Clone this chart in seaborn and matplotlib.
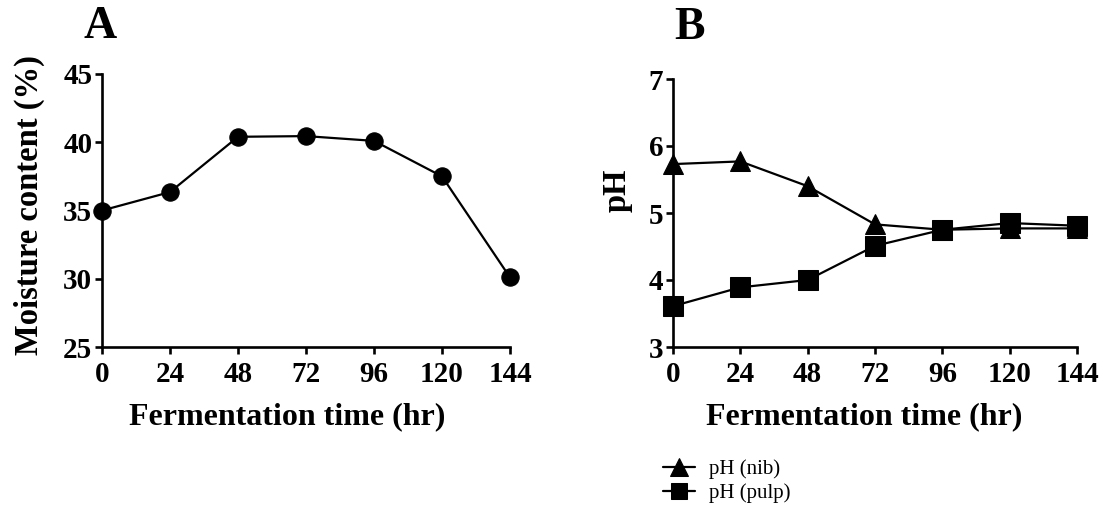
import matplotlib
matplotlib.use("Agg")
import matplotlib.pyplot as plt
import seaborn as sns
import pandas as pd

# Fermentation time points (hours)
time_hr = [0, 24, 48, 72, 96, 120, 144]

# Panel A: moisture content (%)
moisture = [35.0, 36.35, 40.4, 40.45, 40.1, 37.5, 30.1]

# Panel B: pH of nib and pulp
ph_nib = [5.73, 5.77, 5.40, 4.83, 4.75, 4.77, 4.77]
ph_pulp = [3.61, 3.89, 4.00, 4.51, 4.75, 4.85, 4.81]

x_ticks = [0, 24, 48, 72, 96, 120, 144]
a_yticks = [25, 30, 35, 40, 45]
b_yticks = [3, 4, 5, 6, 7]

sns.set_style("ticks")
plt.rcParams["font.family"] = ["Liberation Serif", "DejaVu Serif"]
plt.rcParams["font.weight"] = "bold"
plt.rcParams["text.color"] = "black"
plt.rcParams["axes.labelcolor"] = "black"
plt.rcParams["xtick.color"] = "black"
plt.rcParams["ytick.color"] = "black"

W, H = 1106, 527
fig = plt.figure(figsize=(W / 100, H / 100), dpi=100)


def px_axes(left, right, top, bottom):
    return fig.add_axes([left / W, 1 - bottom / H, (right - left) / W, (bottom - top) / H])


axA = px_axes(102, 510, 74, 347)
axB = px_axes(673, 1077, 79, 347)

df_a = pd.DataFrame({"time": time_hr, "moisture": moisture})
sns.lineplot(data=df_a, x="time", y="moisture", ax=axA, color="black",
             marker="o", markersize=12.5, linewidth=1.6, markeredgecolor="black",
             clip_on=False, zorder=3)

df_nib = pd.DataFrame({"time": time_hr, "ph": ph_nib})
df_pulp = pd.DataFrame({"time": time_hr, "ph": ph_pulp})
sns.lineplot(data=df_nib, x="time", y="ph", ax=axB, color="black",
             marker="^", markersize=15, linewidth=1.6, markeredgecolor="black",
             clip_on=False, zorder=3, label="pH (nib)")
sns.lineplot(data=df_pulp, x="time", y="ph", ax=axB, color="black",
             marker="s", markersize=14, linewidth=1.6, markeredgecolor="black",
             clip_on=False, zorder=3, label="pH (pulp)")

for ax, yt, ylab in ((axA, a_yticks, "Moisture content (%)"), (axB, b_yticks, "pH")):
    ax.set_xlim(0, 144)
    ax.set_ylim(yt[0], yt[-1])
    ax.set_xticks(x_ticks)
    ax.set_yticks(yt)
    ax.set_xticklabels([str(t) for t in x_ticks])
    ax.set_yticklabels([str(t) for t in yt])
    sns.despine(ax=ax)
    for s in ("left", "bottom"):
        ax.spines[s].set_linewidth(1.9)
        ax.spines[s].set_color("black")
    ax.tick_params(axis="both", direction="out", length=5, width=1.9,
                   labelsize=21, colors="black")
    ax.tick_params(axis="x", pad=5)
    ax.tick_params(axis="y", pad=2)
    for lab in ax.get_xticklabels() + ax.get_yticklabels():
        lab.set_fontweight("bold")
        lab.set_color("black")
    ax.set_xlabel("Fermentation time (hr)", fontsize=23, fontweight="bold", color="black")
    ax.set_ylabel(ylab, fontsize=23.5, fontweight="bold", color="black")

# Axis-label placement in axes fractions
axA.xaxis.set_label_coords((287 - 102) / (510 - 102), -(417 - 347) / (347 - 74))
axB.xaxis.set_label_coords((864 - 673) / (1077 - 673), -(417 - 347) / (347 - 79))
axA.yaxis.set_label_coords((45 - 102) / (510 - 102), (347 - 205) / (347 - 74))
axB.yaxis.set_label_coords((633 - 673) / (1077 - 673), (347 - 190) / (347 - 79))
axA.xaxis.label.set_va("center")
axB.xaxis.label.set_va("center")

leg = axB.get_legend()
if leg is not None:
    leg.remove()
handles, labels = axB.get_legend_handles_labels()
fig.legend(handles, labels, loc="upper left", bbox_to_anchor=(655 / W, 1 - 451 / H),
           frameon=False, prop={"family": "Liberation Serif", "weight": "normal", "size": 15},
           handlelength=1.5, handletextpad=0.7, labelspacing=0.2, borderaxespad=0,
           markerscale=0.85)

fig.text(100 / W, 1 - 27 / H, "A", fontsize=33, fontweight="bold", ha="center", va="center")
fig.text(690 / W, 1 - 28 / H, "B", fontsize=33, fontweight="bold", ha="center", va="center")

fig.savefig("out.png", dpi=100)
